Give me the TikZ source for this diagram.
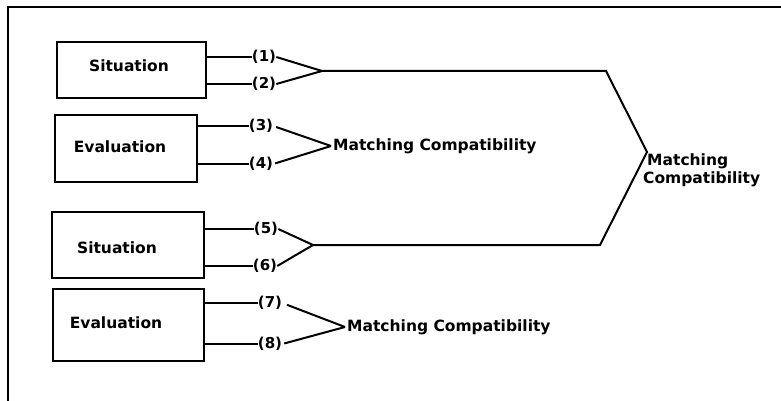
\documentclass[tikz,border=0pt]{standalone}
\usepackage{fontspec}
\setmainfont{DejaVu Sans}
\begin{document}
\begin{tikzpicture}[x=1pt,y=-1pt,
  wire/.style={line width=2pt,line join=miter},
  boxnode/.style={draw,line width=2pt,rectangle,inner sep=0pt},
  txt/.style={font=\bfseries\fontsize{15.5}{18}\selectfont,inner sep=0pt},
  num/.style={font=\bfseries\fontsize{15}{17}\selectfont,inner sep=0pt}]
\useasboundingbox (0,0) rectangle (781,401);
% frame
\draw[wire] (8,401) -- (8,7) -- (781,7);

% boxes
\node[boxnode,minimum width=149pt,minimum height=56pt] (s1) at (131.5,70) {};
\node[boxnode,minimum width=142pt,minimum height=67pt] (e1) at (126,148.5) {};
\node[boxnode,minimum width=152pt,minimum height=66pt] (s2) at (128,245) {};
\node[boxnode,minimum width=151pt,minimum height=72pt] (e2) at (128.5,325) {};
\node[txt] (ts1) at (129,66) {Situation};
\node[txt] (te1) at (120,147) {Evaluation};
\node[txt] (ts2) at (117,248) {Situation};
\node[txt] (te2) at (116,323) {Evaluation};

% numbered outputs
\node[num] (l1) at (264,57) {(1)};
\node[num] (l2) at (264,84) {(2)};
\node[num] (l3) at (261,126) {(3)};
\node[num] (l4) at (261,164) {(4)};
\node[num] (l5) at (266,229) {(5)};
\node[num] (l6) at (265,266) {(6)};
\node[num] (l7) at (270,303) {(7)};
\node[num] (l8) at (270,344) {(8)};

\foreach \b/\l in {s1/l1,s1/l2,e1/l3,e1/l4,s2/l5,s2/l6,e2/l7,e2/l8}
  \draw[wire] (\b.east |- \l) -- (\l.west);

% merge points
\coordinate (a1) at (322,71);
\coordinate (a2) at (331,146);
\coordinate (a3) at (313,245);
\coordinate (a4) at (345,327);
\coordinate (t1) at (606,71);
\coordinate (r) at (647,152);
\coordinate (t3) at (600,245);

\draw[wire] (l1.east) -- (a1) -- (l2.east);
\draw[wire,shorten <=3pt] (l3.east) -- (a2);
\draw[wire,shorten <=2pt] (l4.east) -- (a2);
\draw[wire] (l5.east) -- (a3) -- (l6.east);
\draw[wire,shorten <=5pt] (l7.east) -- (a4);
\draw[wire,shorten <=2pt] (l8.east) -- (a4);

\node[txt,anchor=west] (m2) at ([xshift=2pt]a2) {Matching Compatibility};
\node[txt,anchor=west] (m4) at ([xshift=2pt]a4) {Matching Compatibility};

% final merge
\draw[wire] (a1) -- (t1) -- (r) -- (t3) -- (a3);
\node[txt,anchor=north west,align=left] (mr) at (643,154) {\hspace{4pt}Matching\\Compatibility};
\end{tikzpicture}
\end{document}
